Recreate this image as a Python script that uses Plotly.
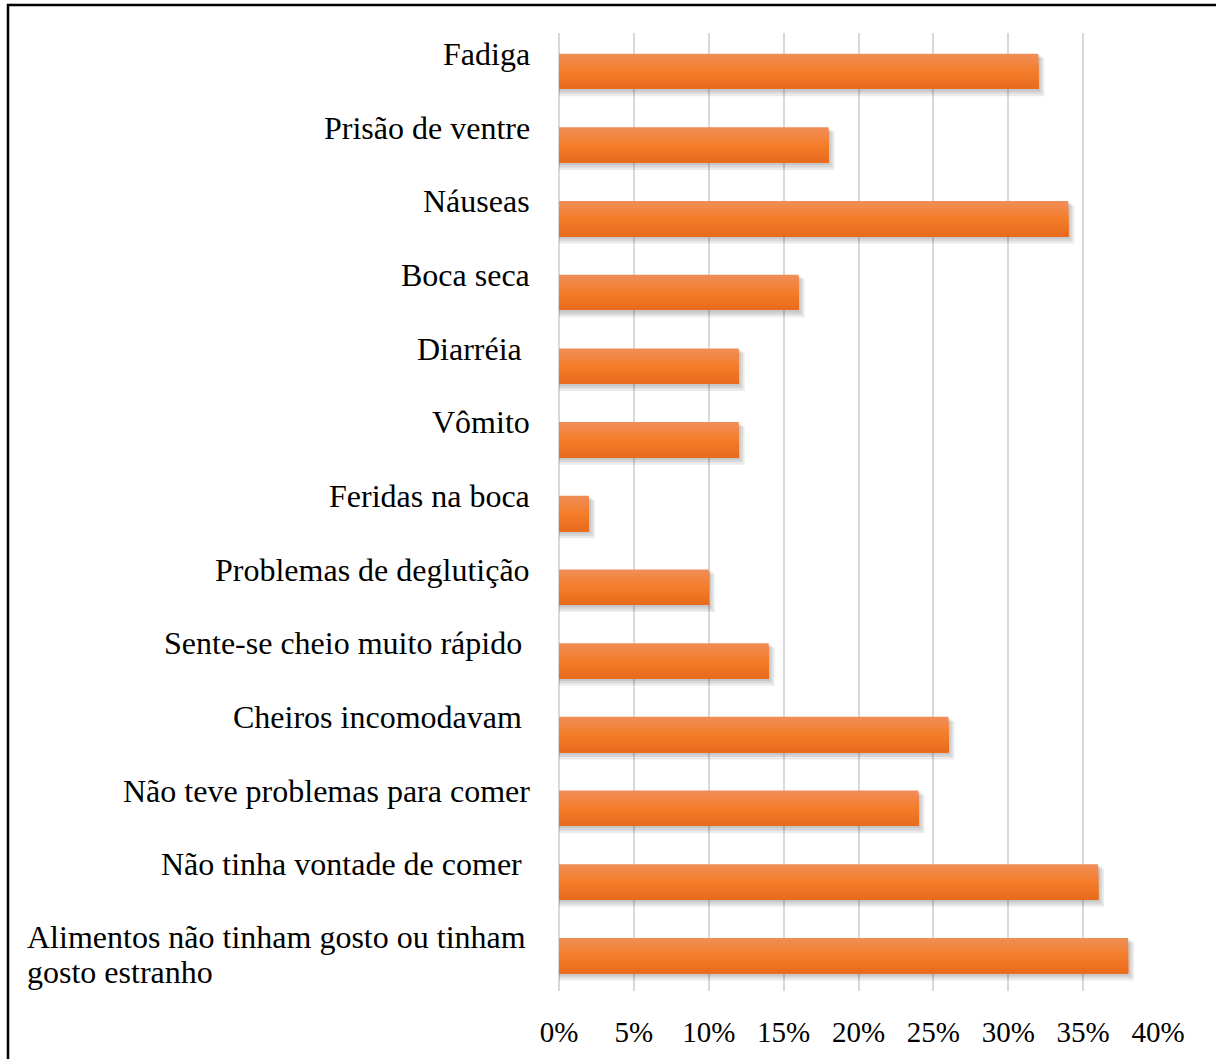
import plotly.graph_objects as go

# Symptom categories (top to bottom) and share of respondents
categories = [
    "Fadiga",
    "Prisão de ventre",
    "Náuseas",
    "Boca seca",
    "Diarréia ",
    "Vômito",
    "Feridas na boca",
    "Problemas de deglutição",
    "Sente-se cheio muito rápido ",
    "Cheiros incomodavam ",
    "Não teve problemas para comer",
    "Não tinha vontade de comer ",
    "Alimentos não tinham gosto ou tinham gosto estranho",
]
values = [0.32, 0.18, 0.34, 0.16, 0.12, 0.12, 0.02, 0.10, 0.14, 0.26, 0.24, 0.36, 0.38]

tick_values = [0, 0.05, 0.10, 0.15, 0.20, 0.25, 0.30, 0.35, 0.40]
tick_labels = ["0%", "5%", "10%", "15%", "20%", "25%", "30%", "35%", "40%"]

# Wrapped display lines for long category names
wrapped = {
    "Alimentos não tinham gosto ou tinham gosto estranho":
        ["Alimentos não tinham gosto ou tinham", "gosto estranho"],
}

W, H = 1216, 1059
M_L, M_R, M_T, M_B = 559, 58, 33, 68
PLOT_W = W - M_L - M_R
PLOT_H = H - M_T - M_B
X_MAX = 0.40
px_x = PLOT_W / X_MAX            # pixels per unit on x
px_y = PLOT_H / len(categories)  # pixels per category slot

FONT = "Liberation Serif, Times New Roman, serif"
LABEL_SIZE = 32
TICK_SIZE = 29

fig = go.Figure()

# soft drop shadow under each bar (a few translucent layers)
bar_top = -0.22
bar_w = 0.48
for s in (2, 4, 6):
    fig.add_trace(go.Bar(
        y=categories,
        x=[v + s / px_x for v in values],
        orientation="h",
        offset=bar_top + (s * 0.7) / px_y,
        width=bar_w + (s * 0.5) / px_y,
        marker=dict(color="rgba(0,0,0,0.08)", line=dict(width=0)),
        hoverinfo="skip",
        showlegend=False,
    ))

# vertical gradient fill: light orange on top to deeper orange at bottom
stops = [(0.0, (240, 142, 88)), (0.5, (244, 125, 42)), (1.0, (232, 106, 28))]


def lerp_color(t):
    for (t0, c0), (t1, c1) in zip(stops[:-1], stops[1:]):
        if t0 <= t <= t1:
            f = (t - t0) / (t1 - t0)
            return "rgb({},{},{})".format(*[round(a + (b - a) * f) for a, b in zip(c0, c1)])
    return "rgb({},{},{})".format(*stops[-1][1])


# each band runs from its own top edge to the bar bottom; later bands cover
# earlier ones, so no seams show between them
n_bands = 20
band = bar_w / n_bands
for k in range(n_bands):
    t = (k + 0.5) / n_bands
    fig.add_trace(go.Bar(
        y=categories,
        x=values,
        orientation="h",
        offset=bar_top + k * band,
        width=bar_w - k * band,
        marker=dict(color=lerp_color(t), line=dict(width=0)),
        hovertemplate="%{y}: %{x:.0%}<extra></extra>",
        showlegend=False,
    ))

label_font = dict(family=FONT, size=LABEL_SIZE, color="black")

# category labels to the left of the plot area
for cat in categories:
    if cat in wrapped:
        first, second = wrapped[cat]
        x_left = (25 - M_L) / PLOT_W
        for line, shift in ((first, 17.5), (second, -17.5)):
            fig.add_annotation(
                xref="paper", yref="y", x=x_left, y=cat,
                xanchor="left", yanchor="middle", yshift=shift,
                text=line, showarrow=False, font=label_font,
            )
        continue
    text = cat.rstrip()
    if cat.endswith(" "):
        text += "\u00a0"
    fig.add_annotation(
        xref="paper", yref="y", x=0, y=cat,
        xanchor="right", yanchor="middle",
        xshift=-27, yshift=16,
        text=text, showarrow=False, font=label_font,
    )

# outer frame (left and top edges)
fx = (8 - M_L) / PLOT_W
fy = 1 + (M_T - 5) / PLOT_H
fig.add_shape(
    type="path", xref="paper", yref="paper",
    path=f"M {fx} {-0.2} L {fx} {fy} L {1.2} {fy}",
    line=dict(color="black", width=2.5),
)

fig.update_layout(
    width=W, height=H,
    margin=dict(l=M_L, r=M_R, t=M_T, b=M_B),
    barmode="overlay",
    plot_bgcolor="white",
    paper_bgcolor="white",
    font=dict(family=FONT, size=LABEL_SIZE, color="black"),
    xaxis=dict(
        range=[0, X_MAX],
        tickvals=tick_values,
        ticktext=tick_labels,
        showgrid=True,
        gridcolor="#d9d9d9",
        gridwidth=2,
        zeroline=True,
        zerolinecolor="#d9d9d9",
        zerolinewidth=2,
        showline=False,
        ticks="",
        ticklabelstandoff=21,
        tickfont=dict(family=FONT, size=TICK_SIZE, color="black"),
    ),
    yaxis=dict(
        type="category",
        categoryorder="array",
        categoryarray=categories,
        range=[len(categories) - 0.5, -0.5],
        showticklabels=False,
        showgrid=False,
        zeroline=False,
        ticks="",
    ),
)

fig.write_html("out.html")
